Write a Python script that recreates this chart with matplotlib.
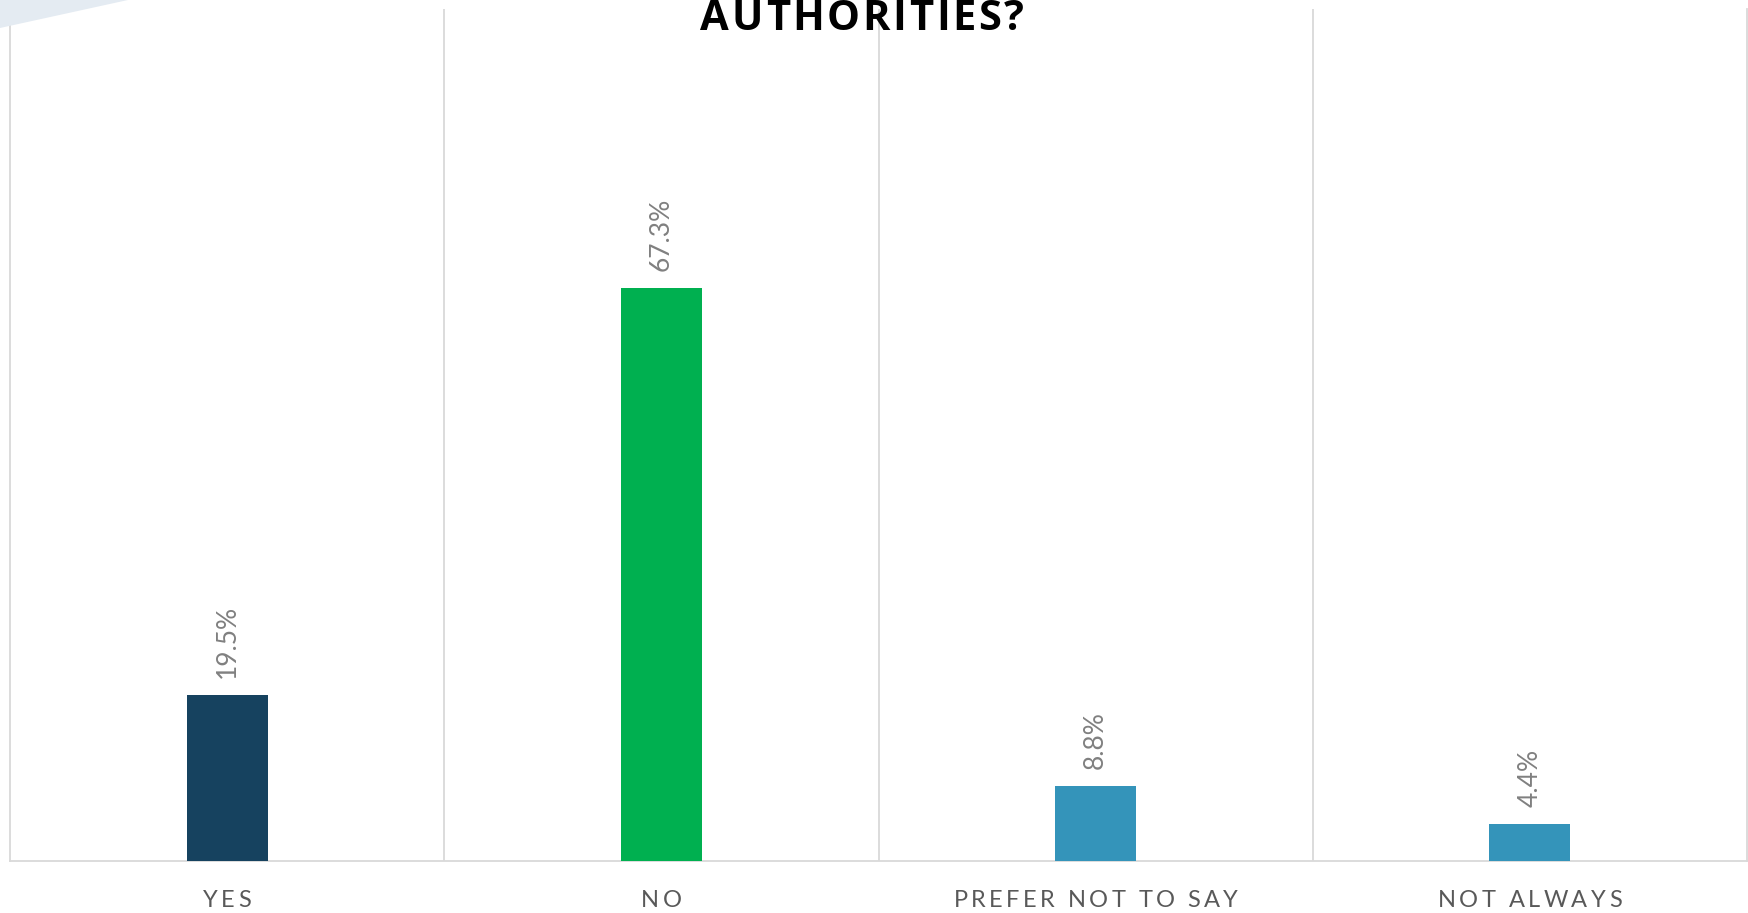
import matplotlib.pyplot as plt
from matplotlib.patches import Polygon
from matplotlib.transforms import IdentityTransform

categories = ["YES", "NO", "PREFER NOT TO SAY", "NOT ALWAYS"]
values = [19.5, 67.3, 8.8, 4.4]
colors = ["#16425f", "#00b050", "#3494ba", "#3494ba"]
title = "AUTHORITIES?"

W, H = 1748, 913
fig = plt.figure(figsize=(W / 100, H / 100), dpi=100)
rend = fig.canvas.get_renderer()


def text_w(s, **kw):
    t = fig.text(0, 0, s, **kw)
    w = t.get_window_extent(rend).width
    t.remove()
    return w


def spaced_text(s, cx, y, extra, **kw):
    # letter-spaced text, placed in pixels
    widths = []
    for ch in s:
        if ch == " ":
            widths.append(text_w("x x", **kw) - text_w("xx", **kw))
        else:
            widths.append(text_w(ch, **kw))
    total = sum(widths) + extra * (len(s) - 1)
    x0 = cx - total / 2
    for ch, w in zip(s, widths):
        fig.text(x0, y, ch, transform=IdentityTransform(),
                 ha="left", va="baseline", **kw)
        x0 += w + extra


# light corner shape top-left
fig.patches.append(Polygon([(0, 1), (128 / W, 1), (0, 1 - 28 / H)],
                           closed=True, transform=fig.transFigure,
                           facecolor="#e4ebf2", edgecolor="none", zorder=0))

ax = fig.add_axes([10 / W, 52 / H, 1737 / W, 852 / H])
ax.set_facecolor("none")

x = list(range(len(categories)))
bars = ax.bar(x, values, width=0.187, color=colors, zorder=3)

ax.set_xlim(-0.5, len(categories) - 0.5)
ax.set_ylim(0, 100)

for b, v in zip(bars, values):
    ax.annotate(f"{v}%", (b.get_x() + b.get_width() / 2, v),
                xytext=(0, 17), textcoords="offset pixels",
                rotation=90, ha="center", va="bottom",
                fontsize=19, color="#808080", family="Lato")

for sep in [0.5, 1.5, 2.5]:
    ax.axvline(sep, color="#d9d9d9", lw=1.3, zorder=1)

for s in ["left", "right", "bottom"]:
    ax.spines[s].set_color("#d9d9d9")
    ax.spines[s].set_linewidth(1.3)
ax.spines["top"].set_visible(False)

ax.set_yticks([])
ax.set_xticks([])

for i, cat in enumerate(categories):
    cx = ax.transData.transform((i, 0))[0]
    spaced_text(cat, cx, 6, 3.4, fontsize=17, color="#595959", family="Lato")

spaced_text(title, 862, H - 30, 2.6, fontsize=30, fontweight="bold",
            family="Open Sans", color="black")

fig.savefig("out.png", dpi=100)
